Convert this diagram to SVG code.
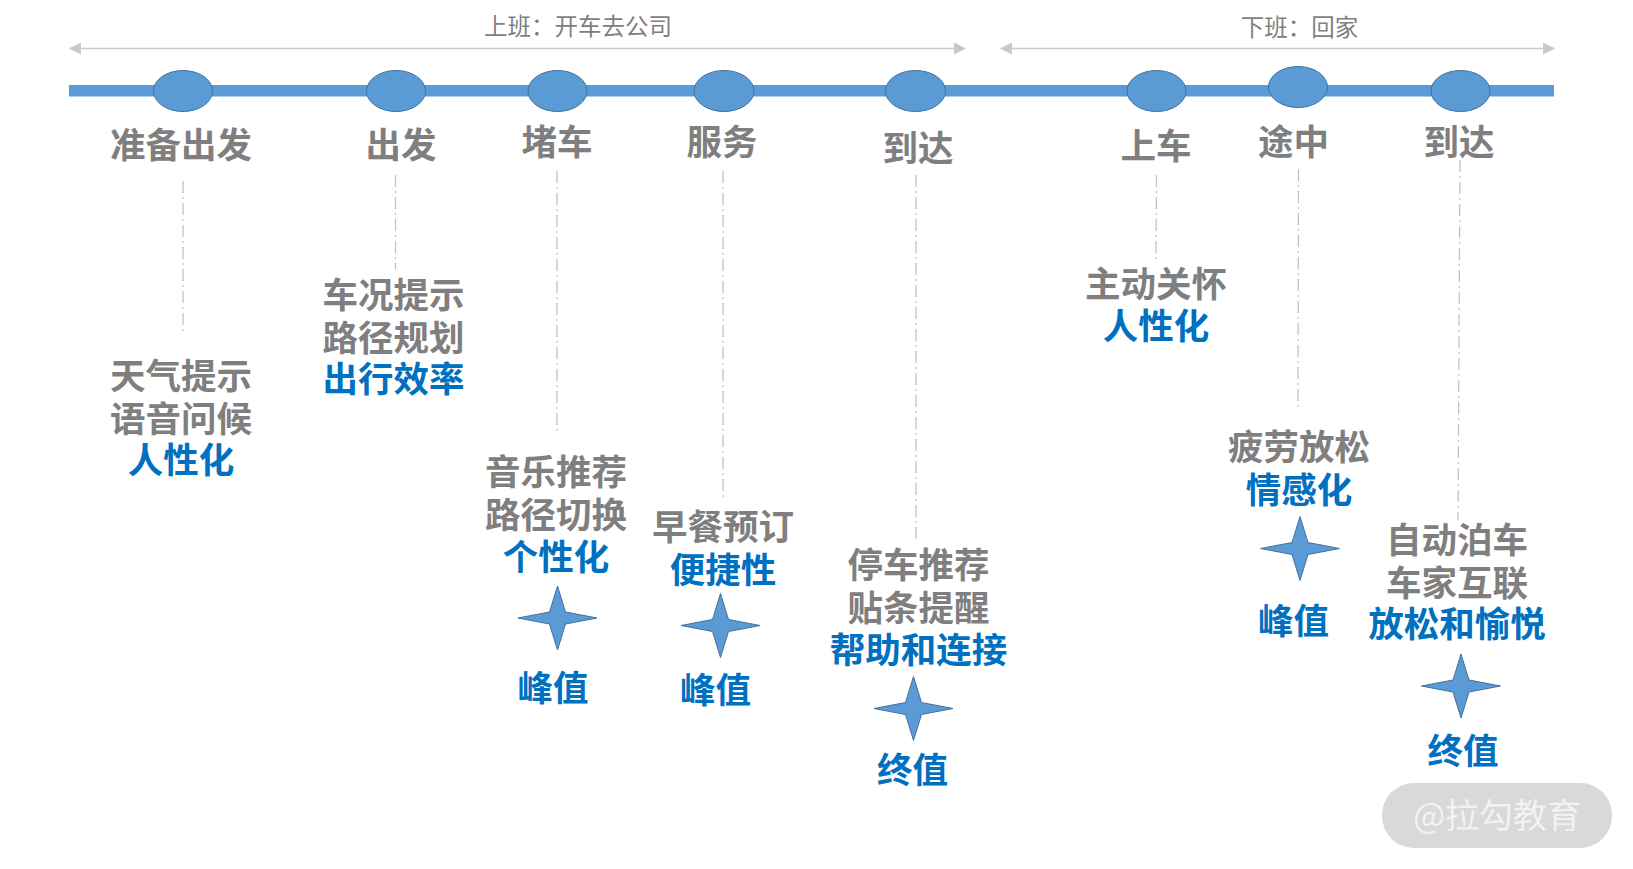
<svg xmlns="http://www.w3.org/2000/svg" width="1633" height="869" viewBox="0 0 1633 869">
<style>
text{font-family:"Noto Sans CJK SC","Noto Sans",sans-serif;text-anchor:middle}
.g{font-size:35.5px;font-weight:700;fill:#7f7f7f}
.b{font-size:35.5px;font-weight:700;fill:#0070c0}
.t{font-size:23.5px;font-weight:400;fill:#7f7f7f}
.d{fill:#5b9bd5;stroke:#41719c;stroke-width:1}
.dash{stroke:#bfbfbf;stroke-width:1.2;stroke-dasharray:12 4 2 4;fill:none}
.arr{stroke:#c8c8c8;stroke-width:1.6;fill:none;marker-start:url(#ah);marker-end:url(#ah)}
</style>
<defs>
<marker id="ah" viewBox="0 0 12 12" refX="11" refY="6" markerWidth="12" markerHeight="12" markerUnits="userSpaceOnUse" orient="auto-start-reverse"><path d="M0 0L12 6L0 12Z" fill="#c8c8c8"/></marker>
<path id="star" d="M0-32L8-6L39.5 0L8 6L0 32L-8 6L-39.5 0L-8-6Z"/>
</defs>
<rect width="1633" height="869" fill="#fff"/>
<g id="connectors">
<rect x="69" y="85" width="1485" height="11.5" fill="#5b9bd5"/>
<line class="arr" x1="70" y1="48.5" x2="965" y2="48.5"/>
<line class="arr" x1="1001" y1="48.5" x2="1554" y2="48.5"/>
<line class="dash" x1="183" y1="181" x2="183" y2="332"/>
<line class="dash" x1="395.500" y1="175" x2="395.500" y2="269"/>
<line class="dash" x1="557" y1="171" x2="557" y2="432"/>
<line class="dash" x1="723" y1="171" x2="723" y2="498"/>
<line class="dash" x1="916" y1="175" x2="916" y2="539"/>
<line class="dash" x1="1156.500" y1="175" x2="1156" y2="260"/>
<line class="dash" x1="1298.500" y1="169" x2="1298" y2="408"/>
<line class="dash" x1="1460" y1="160" x2="1458" y2="520"/>
</g>
<g id="header-commute"><text class="t" x="578" y="34.500">上班：开车去公司</text></g>
<g id="header-home"><text class="t" x="1299.500" y="35.500">下班：回家</text></g>
<g id="n1"><ellipse class="d" cx="183" cy="91" rx="29.500" ry="20.500"/><text class="g" x="181" y="158">准备出发</text>
<text class="g" x="181" y="389">天气提示</text><text class="g" x="181" y="432">语音问候</text><text class="b" x="181" y="473">人性化</text></g>
<g id="n2"><ellipse class="d" cx="396" cy="91" rx="29.500" ry="20.500"/><text class="g" x="401" y="158">出发</text>
<text class="g" x="393.500" y="308">车况提示</text><text class="g" x="393.500" y="351">路径规划</text><text class="b" x="393.500" y="392">出行效率</text></g>
<g id="n3"><ellipse class="d" cx="557.500" cy="91" rx="29.500" ry="20.500"/><text class="g" x="557" y="155">堵车</text>
<text class="g" x="556" y="485">音乐推荐</text><text class="g" x="556" y="528">路径切换</text><text class="b" x="556" y="570">个性化</text>
<use href="#star" class="d" x="557.500" y="618"/><text class="b" x="553" y="701">峰值</text></g>
<g id="n4"><ellipse class="d" cx="724" cy="91" rx="30" ry="20.500"/><text class="g" x="722" y="155">服务</text>
<text class="g" x="723" y="539.500">早餐预订</text><text class="b" x="723" y="583">便捷性</text>
<use href="#star" class="d" x="720.500" y="625.500"/><text class="b" x="715.500" y="703">峰值</text></g>
<g id="n5"><ellipse class="d" cx="915.500" cy="91" rx="30" ry="20.500"/><text class="g" x="918" y="161">到达</text>
<text class="g" x="918.500" y="578">停车推荐</text><text class="g" x="918.500" y="620.500">贴条提醒</text><text class="b" x="918.500" y="663">帮助和连接</text>
<use href="#star" class="d" x="913.500" y="708.500"/><text class="b" x="912.500" y="783">终值</text></g>
<g id="n6"><ellipse class="d" cx="1156.500" cy="91" rx="29.500" ry="20.500"/><text class="g" x="1156" y="159">上车</text>
<text class="g" x="1156" y="296.500">主动关怀</text><text class="b" x="1156" y="339">人性化</text></g>
<g id="n7"><ellipse class="d" cx="1298" cy="87" rx="29.500" ry="20.500"/><text class="g" x="1293.500" y="155">途中</text>
<text class="g" x="1299" y="460">疲劳放松</text><text class="b" x="1299" y="503">情感化</text>
<use href="#star" class="d" x="1300" y="548.500"/><text class="b" x="1293.500" y="634">峰值</text></g>
<g id="n8"><ellipse class="d" cx="1460.500" cy="91" rx="29.500" ry="20.500"/><text class="g" x="1459" y="155">到达</text>
<text class="g" x="1457" y="552.500">自动泊车</text><text class="g" x="1457" y="595.500">车家互联</text><text class="b" x="1457" y="637">放松和愉悦</text>
<use href="#star" class="d" x="1461" y="686"/><text class="b" x="1463" y="764">终值</text></g>
<g id="watermark"><rect x="1382" y="783" width="230" height="65" rx="32" fill="#d9d9d9"/><text x="1497" y="828" font-size="34" fill="#f2f2f2">@拉勾教育</text></g>
</svg>
